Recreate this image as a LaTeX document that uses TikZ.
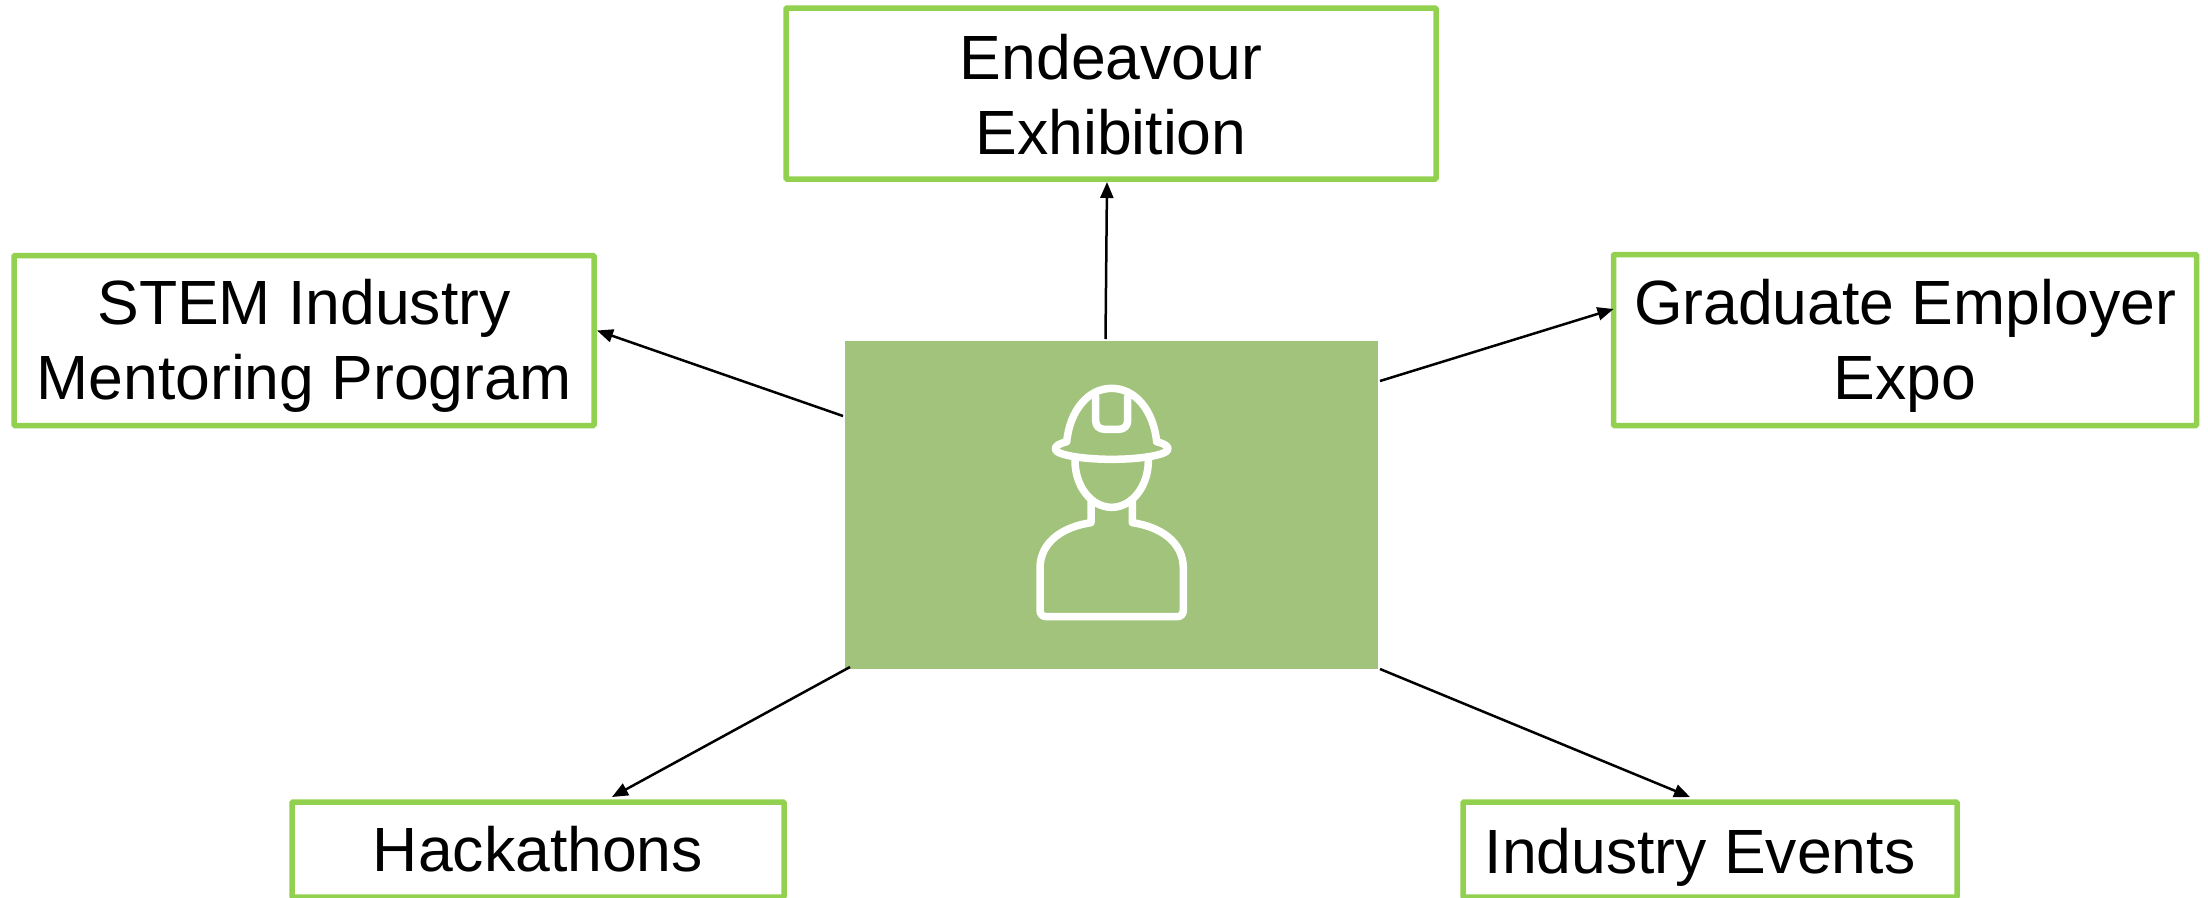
\documentclass[tikz,border=0pt]{standalone}
\usepackage{fontspec}
\setmainfont{Liberation Sans}
\usetikzlibrary{arrows.meta}
\definecolor{boxgreen}{HTML}{92D050}
\definecolor{hubgreen}{HTML}{A2C37B}
\newcommand{\nudge}[1]{\rule{0pt}{#1pt}}
\tikzset{
  itembox/.style={draw=boxgreen,line width=5.5pt,fill=white,inner sep=0pt,outer sep=0pt,rounded corners=1pt,align=center,
    font=\fontsize{62.5}{75}\selectfont},
  hubbox/.style={fill=hubgreen,inner sep=0pt,outer sep=0pt},
  link/.style={draw=black,line width=2.5pt,-{Triangle[length=16pt,width=13pt]}},
  icon/.style={draw=white,line width=7.5pt,line join=round,line cap=round}
}
\begin{document}
\begin{tikzpicture}[x=1pt,y=-1pt]
\useasboundingbox (0,0) rectangle (2208,897);
\fill[white] (0,0) rectangle (2208,897);
\node[hubbox,minimum width=533pt,minimum height=328pt] (hub) at (1111.5,505) {};
\node[itembox,minimum width=650pt,minimum height=171pt] (endeavour) at (1111,93.5) {\nudge{48}Endeavour\\Exhibition};
\node[itembox,minimum width=580pt,minimum height=170pt] (stem) at (304,340.5) {\nudge{56}STEM Industry\\Mentoring Program};
\node[itembox,minimum width=583pt,minimum height=171pt] (graduate) at (1905,340) {\nudge{56}Graduate Employer\\Expo};
\node[itembox,minimum width=492pt,minimum height=95pt] (hack) at (538,849.5) {Hackathons};
\node[itembox,minimum width=494pt,minimum height=95pt] (events) at (1710,849.5) {\nudge{60}Industry Events\kern 20pt};
\draw[link] ([xshift=-6pt,yshift=2pt]hub.north) -- ([xshift=-4pt,yshift=-3pt]endeavour.south);
\draw[link] ([yshift=-75pt,xshift=-2pt]hub.north west) -- ([xshift=3pt,yshift=10pt]stem.east);
\draw[link] ([yshift=-40pt,xshift=2pt]hub.north east) -- ([yshift=31pt]graduate.west);
\draw[link] ([xshift=5pt,yshift=2pt]hub.south west) -- ([xshift=74pt,yshift=5pt]hack.north);
\draw[link] ([xshift=2pt]hub.south east) -- ([xshift=-20pt,yshift=5pt]events.north);
\begin{scope}[shift={(950,300)},x=0.33333pt,y=-0.33333pt]
\draw[icon] (350,425) .. controls (360,330) and (415,265) .. (485,265) .. controls (555,265) and (610,330) .. (620,425);
\draw[icon] (350,425) .. controls (325,432) and (316,438) .. (316,447) .. controls (316,465) and (400,478) .. (485,478) .. controls (570,478) and (654,465) .. (654,447) .. controls (654,438) and (645,432) .. (620,425);
\draw[icon] (437,290) -- (437,362) .. controls (437,378) and (448,388) .. (464,388) -- (506,388) .. controls (522,388) and (533,378) .. (533,362) -- (533,290);
\draw[icon] (375,482) .. controls (375,560) and (425,622) .. (485,622) .. controls (545,622) and (595,560) .. (595,482);
\draw[icon] (423,600) -- (423,668) .. controls (340,680) and (270,725) .. (270,805) -- (270,930) .. controls (270,943) and (277,950) .. (290,950) -- (680,950) .. controls (693,950) and (700,943) .. (700,930) -- (700,805) .. controls (700,725) and (630,680) .. (547,668) -- (547,600);
\end{scope}
\end{tikzpicture}
\end{document}
